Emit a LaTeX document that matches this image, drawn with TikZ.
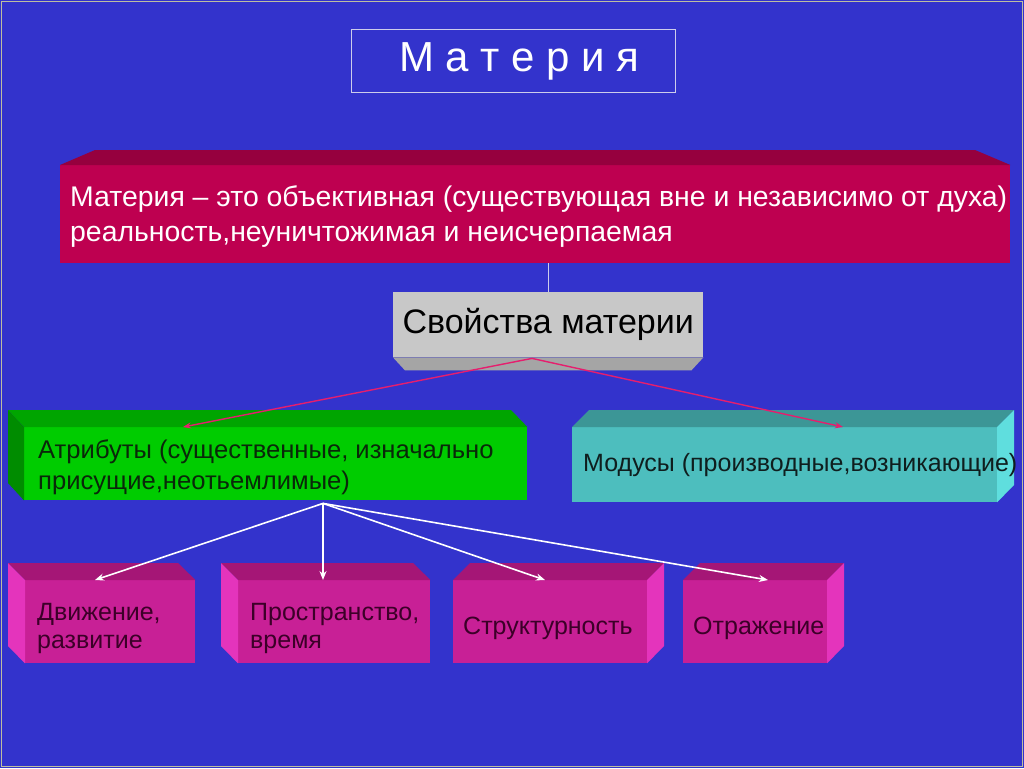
\documentclass[tikz,border=0pt]{standalone}
\usepackage{fontspec}
\setmainfont{Liberation Sans}
\usetikzlibrary{positioning, calc, arrows.meta}

\definecolor{sfondo}{RGB}{51,51,204}
\definecolor{cornice}{RGB}{190,190,160}
\definecolor{bordoTitolo}{RGB}{205,205,235}
\definecolor{cremisiF}{RGB}{190,0,80}
\definecolor{cremisiT}{RGB}{150,0,62}
\definecolor{grigioF}{RGB}{200,200,200}
\definecolor{grigioB}{RGB}{165,165,165}
\definecolor{verdeF}{RGB}{0,204,0}
\definecolor{verdeT}{RGB}{0,165,0}
\definecolor{verdeL}{RGB}{0,140,0}
\definecolor{verdeX}{RGB}{10,40,10}
\definecolor{cianoF}{RGB}{77,190,190}
\definecolor{cianoT}{RGB}{60,150,150}
\definecolor{cianoL}{RGB}{95,222,222}
\definecolor{cianoX}{RGB}{15,30,30}
\definecolor{magentaF}{RGB}{200,32,150}
\definecolor{magentaT}{RGB}{165,22,118}
\definecolor{magentaL}{RGB}{228,52,188}
\definecolor{magentaX}{RGB}{60,0,40}
\definecolor{rossoFreccia}{RGB}{230,30,110}

\tikzset{
  fronte/.style={rectangle, draw=none, anchor=north west, inner sep=0pt},
  testo/.style={inner sep=0pt, align=left, anchor=west},
  frecciaRossa/.style={-{Stealth[length=8pt,width=6pt]}, draw=rossoFreccia, line width=1.4pt},
  frecciaBianca/.style={-{Stealth[length=9pt,width=7pt]}, draw=white, line width=1.6pt},
}

\begin{document}
\begin{tikzpicture}[x=1pt,y=-1pt,font=\fontsize{25}{31}\selectfont]

% --- Sfondo e cornice
\fill[sfondo] (0,0) rectangle (1024,768);
\draw[cornice,line width=1.5pt] (1.5,1.5) rectangle (1022.5,766.5);
\useasboundingbox (0,0) rectangle (1024,768);

% Macro per un blocco in rilievo: #1 nome, #2 x, #3 y, #4 larghezza, #5 altezza,
% #6 sporgenza del fianco (negativa = fianco a sinistra), #7 colore, #8 stile del testo, #9 testo
\newcommand{\blocco}[9]{%
  \node[fronte, fill=#7F, minimum width=#4pt, minimum height=#5pt] (#1) at (#2,#3) {};
  \fill[#7T] (#1.north west) -- ++(#6,-17) -- ++(#4,0) -- (#1.north east) -- cycle;
  \pgfmathsetmacro{\lato}{(#6<0 ? 0 : #4)}
  \fill[#7L] ($(#1.north west)+(\lato,0)$) -- ++(#6,-17) -- ++(0,#5)
    -- ($(#1.south west)+(\lato,0)$) -- cycle;
  \node[testo, text=#7X, #8, right=12pt of #1.west] (#1T) {#9};
}

% --- Titolo
\node[draw=bordoTitolo, line width=1pt, anchor=north west, minimum width=324pt,
  minimum height=63pt, text=white, font=\fontsize{42}{50}\selectfont] (titolo) at (351,29)
  {\hspace*{12pt}М а т е р и я};

% --- Definizione
\node[fronte, fill=cremisiF, minimum width=950pt, minimum height=98pt] (definizione) at (60,165) {};
\fill[cremisiT] (definizione.north west) -- (95,150) -- (975,150) -- (definizione.north east) -- cycle;
\node[testo, text=white, font=\fontsize{28.4}{35}\selectfont, right=10pt of definizione.west,
  yshift=-2pt] (definizioneT)
  {Материя – это объективная (существующая вне и независимо от духа)\\
   реальность,неуничтожимая и неисчерпаемая};

% --- Proprietà
\node[fronte, fill=grigioF, minimum width=310pt, minimum height=65pt] (proprieta) at (393,292)
  {\fontsize{34}{40}\selectfont Свойства материи};
\fill[grigioB] (proprieta.south west) -- ++(12,13) -- ($(proprieta.south east)+(-12,13)$)
  -- (proprieta.south east) -- cycle;
\draw[bordoTitolo, line width=1pt] (proprieta.north) -- (proprieta.north |- definizione.south);

% --- Attributi e modi
\blocco{attributi}{24}{427}{503}{73}{-16}{verde}{font=\fontsize{25.6}{31}\selectfont, xshift=2pt, yshift=-4pt}
  {Атрибуты (существенные, изначально\\присущие,неотьемлимые)}
\blocco{modi}{572}{427}{425}{75}{17}{ciano}{xshift=-1pt}
  {Модусы (производные,возникающие)}

% --- Quattro attributi
\blocco{moto}{25}{580}{170}{83}{-17}{magenta}{font=\fontsize{25}{28}\selectfont, yshift=-7pt}{Движение,\\развитие}
\blocco{spazio}{238}{580}{192}{83}{-17}{magenta}{font=\fontsize{25}{28}\selectfont, yshift=-7pt}{Пространство,\\время}
\blocco{struttura}{453}{580}{194}{83}{17}{magenta}{xshift=-2pt, yshift=-7pt}{Структурность}
\blocco{riflesso}{683}{580}{144}{83}{17}{magenta}{xshift=-2pt, yshift=-7pt}{Отражение}

% --- Frecce rosse
\coordinate (proprietaBase) at ($(proprieta.south west)+(139,1)$);
\coordinate (attributiCima) at ($(attributi.north west)+(159,0)$);
\coordinate (modiCima) at ($(modi.north west)+(271,0)$);
\draw[frecciaRossa] (proprietaBase) -- (attributiCima);
\draw[frecciaRossa] (proprietaBase) -- (modiCima);

% --- Frecce bianche
\coordinate (attributiBase) at ($(attributi.south west)+(299,3)$);
\foreach \b/\dx in {moto/70, spazio/85, struttura/92, riflesso/85}{
  \draw[frecciaBianca] (attributiBase) -- ($(\b.north west)+(\dx,0)$);
}

\end{tikzpicture}
\end{document}
